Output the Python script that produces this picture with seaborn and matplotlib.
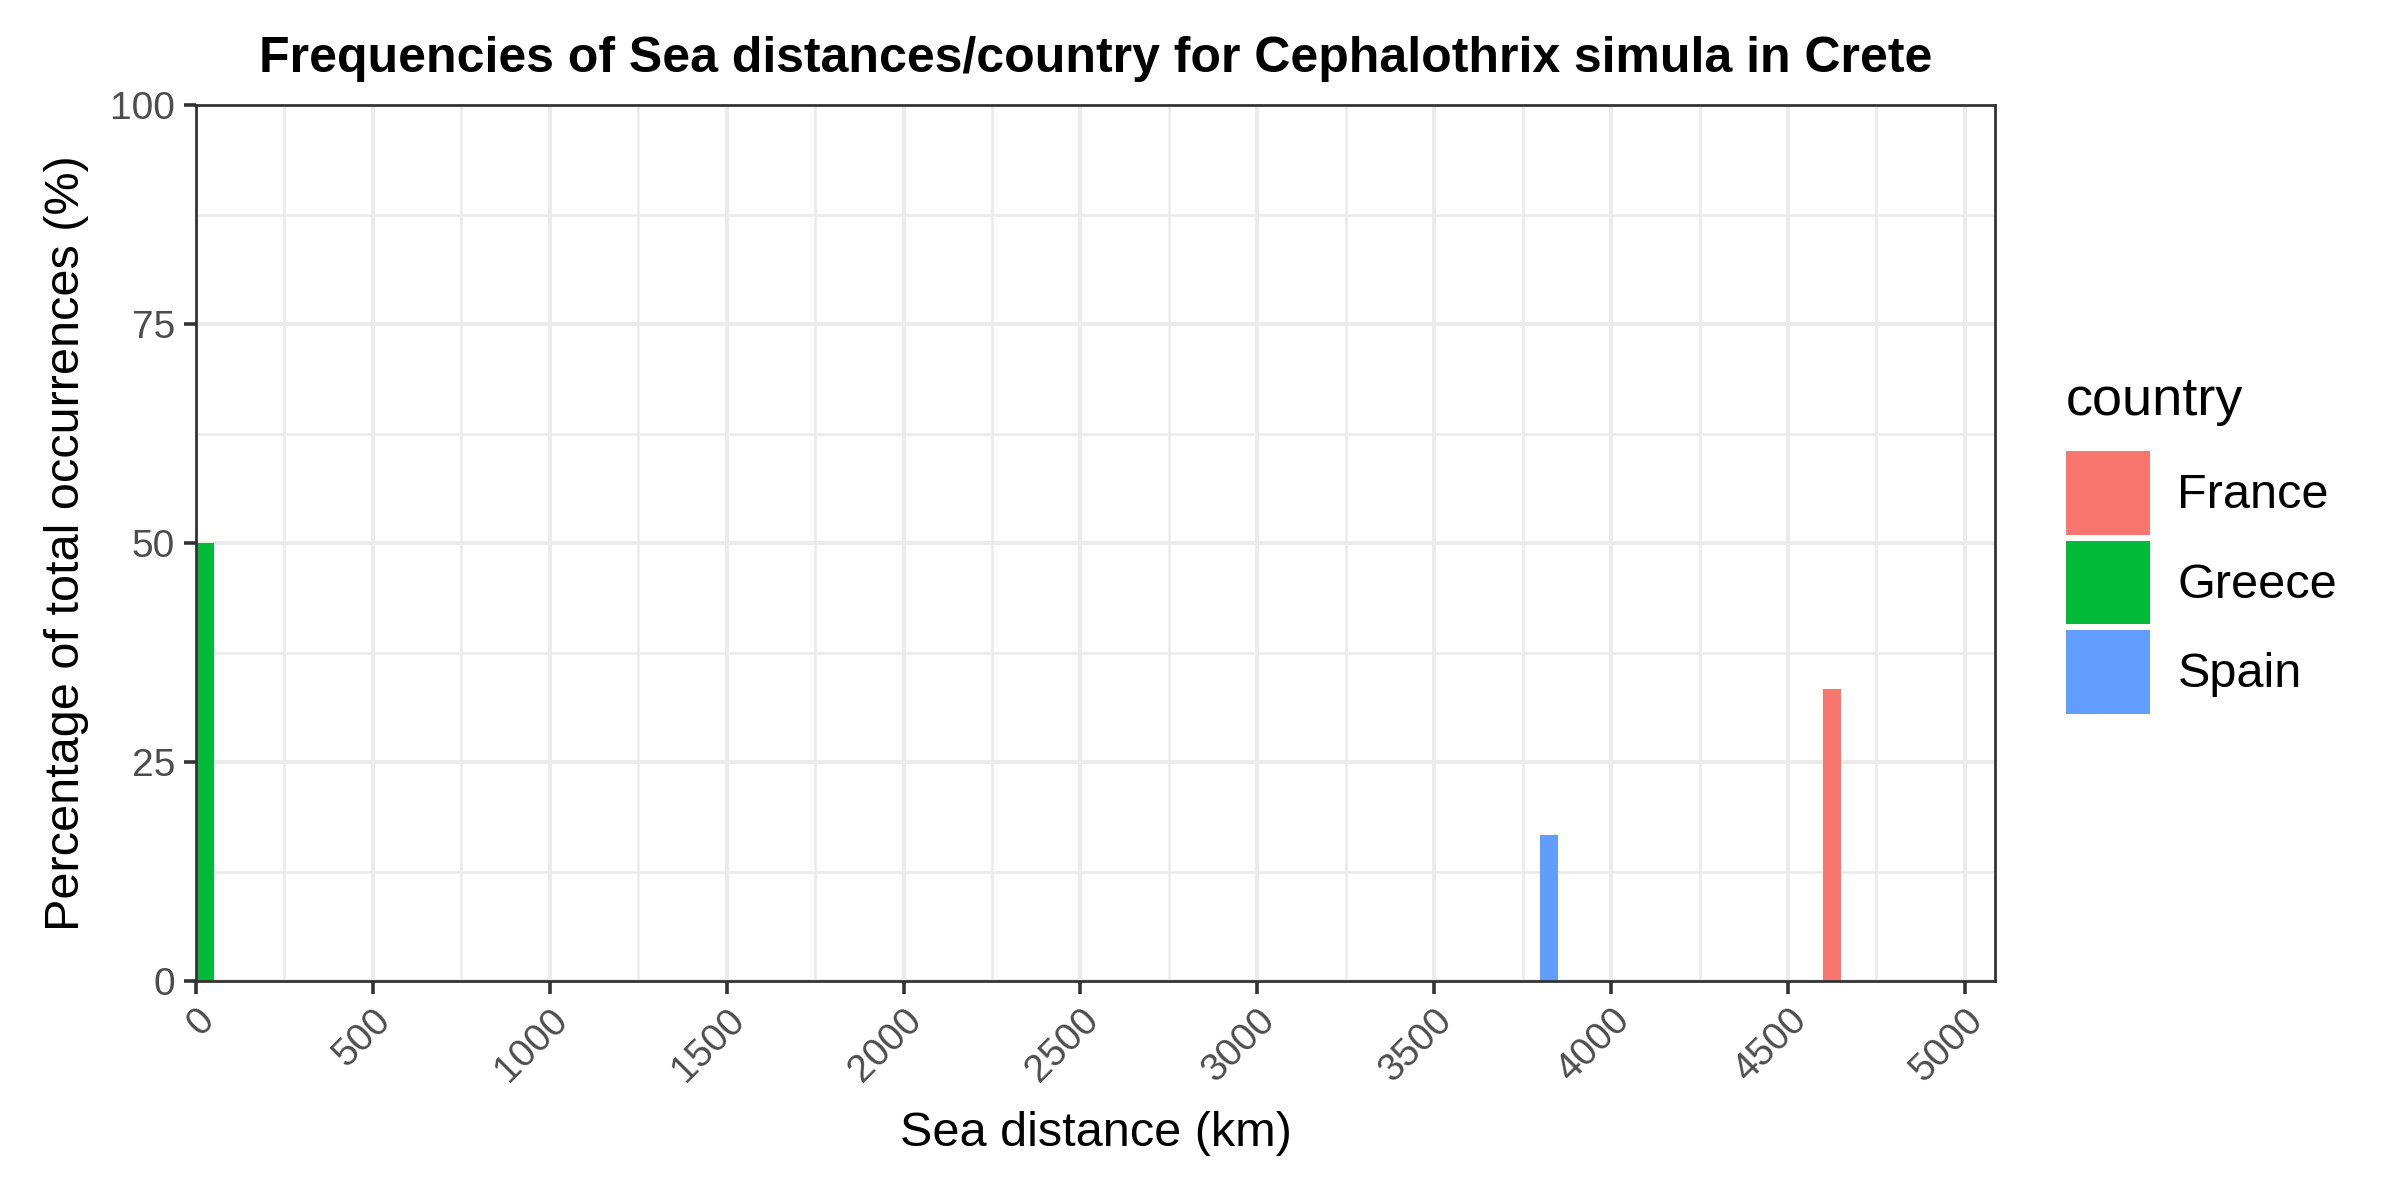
import matplotlib
matplotlib.use("Agg")
import matplotlib.pyplot as plt
from matplotlib.ticker import MultipleLocator
import numpy as np
import pandas as pd
import seaborn as sns

# one entry per occurrence: sea distance (km) and country
GREECE_KM = [12, 25, 38]
SPAIN_KM = [3825]
FRANCE_KM = [4618, 4632]

COUNTRIES = ["France", "Greece", "Spain"]
COLORS = {"France": "#F8766D", "Greece": "#00BA38", "Spain": "#619CFF"}

BIN_WIDTH = 50
X_MAX = 5085
X_TICKS = list(range(0, 5001, 500))
Y_TICKS = [0, 25, 50, 75, 100]

TITLE = "Frequencies of Sea distances/country for Cephalothrix simula in Crete"


def main() -> None:
    df = pd.DataFrame({
        "distance": FRANCE_KM + GREECE_KM + SPAIN_KM,
        "country": (["France"] * len(FRANCE_KM) + ["Greece"] * len(GREECE_KM)
                    + ["Spain"] * len(SPAIN_KM)),
    })

    sns.set_theme(style="white")
    plt.rcParams["font.family"] = ["Liberation Sans", "DejaVu Sans"]
    plt.rcParams["text.color"] = "black"

    fig = plt.figure(figsize=(12, 6), dpi=200)
    ax = fig.add_axes([196 / 2400, 1 - 981 / 1200, 1799 / 2400, 876 / 1200])

    sns.histplot(
        data=df, x="distance", hue="country", hue_order=COUNTRIES,
        palette=COLORS, stat="percent", common_norm=True,
        bins=np.arange(0, X_MAX + BIN_WIDTH, BIN_WIDTH),
        multiple="layer", element="bars", alpha=1, linewidth=0, ax=ax,
    )

    ax.set_xlim(0, X_MAX)
    ax.set_ylim(0, 100)
    ax.set_xticks(X_TICKS)
    ax.set_yticks(Y_TICKS)
    ax.xaxis.set_minor_locator(MultipleLocator(250))
    ax.yaxis.set_minor_locator(MultipleLocator(12.5))
    ax.set_axisbelow(True)
    ax.grid(which="major", color="#EBEBEB", linewidth=1.4)
    ax.grid(which="minor", color="#EBEBEB", linewidth=0.9)
    for s in ax.spines.values():
        s.set_color("#333333")
        s.set_linewidth(1.0)
        s.set_visible(True)

    ax.tick_params(axis="both", which="major", length=4.5, width=1.3,
                   color="#333333", labelsize=14, labelcolor="#4D4D4D",
                   pad=3, bottom=True, left=True)
    ax.tick_params(axis="both", which="minor", length=0)
    plt.setp(ax.get_xticklabels(), rotation=45, ha="right",
             rotation_mode="anchor")

    ax.set_xlabel("Sea distance (km)", fontsize=17.5, color="black")
    ax.set_ylabel("Percentage of total occurrences (%)", fontsize=17.5,
                  color="black")
    ax.xaxis.set_label_coords(0.5, -0.148)
    ax.yaxis.set_label_coords(-0.0595, 0.5)
    ax.set_title(TITLE, fontsize=18, fontweight="bold", color="black", pad=12)

    leg = ax.get_legend()
    handles = leg.legend_handles
    labels = [t.get_text() for t in leg.get_texts()]
    leg.remove()
    leg = ax.legend(
        handles, labels, title="country", loc="center left",
        bbox_to_anchor=(2066 / 2400, 1 - 545 / 1200),
        bbox_transform=fig.transFigure, frameon=False,
        fontsize=17.5, title_fontsize=19.5, alignment="left",
        handlelength=1.72, handleheight=2.27, labelspacing=0.12,
        handletextpad=0.57, borderpad=0, borderaxespad=0,
    )
    leg._legend_box.sep = 9

    fig.savefig("out.png", dpi=200)
    plt.close(fig)


if __name__ == "__main__":
    main()
